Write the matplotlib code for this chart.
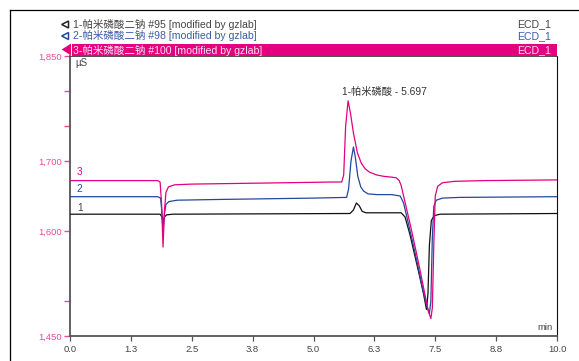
import matplotlib
matplotlib.use("Agg")
import matplotlib.pyplot as plt
from matplotlib.lines import Line2D
from matplotlib.patches import Polygon, Rectangle

# ---------------- data ----------------
t3 = [0.0, 1.80, 1.85, 1.88, 1.91, 1.94, 1.97, 2.02, 2.15, 2.5, 3.5, 4.5, 5.4, 5.58,
      5.62, 5.66, 5.71, 5.76, 5.82, 5.90, 5.98, 6.06, 6.15, 6.30, 6.45, 6.60, 6.70,
      6.76, 6.80, 6.90, 7.00, 7.10, 7.20, 7.30, 7.36, 7.41, 7.44, 7.47, 7.50, 7.55,
      7.65, 7.9, 8.5, 10.0]
v3 = [1672, 1672, 1670, 1640, 1577, 1630, 1655, 1663, 1666, 1667, 1668, 1669, 1670, 1670,
      1680, 1750, 1786, 1768, 1740, 1712, 1697, 1689, 1684, 1680, 1678, 1677, 1676,
      1672, 1665, 1635, 1605, 1573, 1540, 1505, 1485, 1475, 1490, 1580, 1650, 1664,
      1669, 1671, 1672, 1673]

t2 = [0.0, 1.80, 1.86, 1.89, 1.91, 1.94, 1.97, 2.03, 2.2, 3.0, 4.0, 5.0, 5.68, 5.72,
      5.77, 5.82, 5.86, 5.91, 5.97, 6.03, 6.12, 6.3, 6.6, 6.78, 6.85, 6.95, 7.05,
      7.15, 7.25, 7.33, 7.38, 7.41, 7.44, 7.47, 7.52, 7.65, 8.0, 10.0]
v2 = [1649, 1649, 1647, 1625, 1597, 1625, 1638, 1642, 1644, 1645, 1646, 1647, 1648, 1660,
      1700, 1720, 1705, 1678, 1663, 1657, 1653, 1652, 1652, 1650, 1640, 1610, 1580,
      1548, 1515, 1492, 1482, 1500, 1590, 1635, 1644, 1647, 1648, 1649]

t1 = [0.0, 1.85, 1.89, 1.91, 1.94, 1.98, 2.1, 5.75, 5.82, 5.88, 5.94, 6.00, 6.08, 6.80,
      6.88, 6.98, 7.08, 7.18, 7.26, 7.32, 7.35, 7.38, 7.42, 7.48, 7.6, 10.0]
v1 = [1624, 1624, 1620, 1613, 1620, 1623, 1624, 1625, 1630, 1640, 1636, 1628, 1626, 1626,
      1620, 1595, 1565, 1535, 1510, 1488, 1510, 1580, 1615, 1622, 1624, 1625]

trace_names = ["1-帕米磷酸二钠 #95 [modified by gzlab]",
               "2-帕米磷酸二钠 #98 [modified by gzlab]",
               "3-帕米磷酸二钠 #100 [modified by gzlab]"]
channel = "ECD_1"
peak_label = "1-帕米磷酸 - 5.697"

x_ticks = [0.0, 1.25, 2.5, 3.75, 5.0, 6.25, 7.5, 8.75, 10.0]
x_ticklabels = ["0.0", "1.3", "2.5", "3.8", "5.0", "6.3", "7.5", "8.8", "10.0"]
y_ticks = [1450, 1500, 1600, 1700, 1750, 1800, 1850]
y_ticklabels = ["1,450", "", "1,600", "1,700", "", "", "1,850"]

# ---------------- style ----------------
W, H = 579, 361
PINK = "#e4007f"
PINK_LBL = "#ec4a9a"
BLUE = "#23489a"
BLACK = "#111111"
GRAY = "#444444"
FONT = ["Liberation Sans", "Noto Sans CJK SC", "DejaVu Sans"]
plt.rcParams["font.family"] = FONT

def fx(x):
    return x / W

def fy(y):
    return 1 - y / H

fig = plt.figure(figsize=(W / 100, H / 100), dpi=100)
ax = fig.add_axes([fx(70), fy(336), (557 - 70) / W, (336 - 56) / H])

ax.plot(t1, v1, color=BLACK, lw=0.9, zorder=3)
ax.plot(t2, v2, color=BLUE, lw=0.9, zorder=4)
ax.plot(t3, v3, color=PINK, lw=0.9, zorder=5)

ax.set_xlim(0, 10)
ax.set_ylim(1450, 1850)
ax.set_xticks(x_ticks)
ax.set_xticklabels(x_ticklabels, fontsize=6.8, color=GRAY)
ax.set_yticks(y_ticks)
ax.set_yticklabels(y_ticklabels, fontsize=6.8, color=PINK_LBL)
ax.tick_params(axis="x", length=3.5, width=0.9, color="#555555", pad=3)
ax.tick_params(axis="y", length=4, width=1.0, color=PINK_LBL, pad=2)

for s in ["left", "bottom"]:
    ax.spines[s].set_color("#555555")
    ax.spines[s].set_linewidth(1.3)
ax.spines["right"].set_color("#111111")
ax.spines["right"].set_linewidth(0.8)
ax.spines["top"].set_color("#333333")
ax.spines["top"].set_linewidth(0.6)

# in-plot texts
ax.text(0.012, 0.976, "µS", transform=ax.transAxes, fontsize=7, color=GRAY,
        ha="left", va="center")
ax.text(0.992, 0.029, "min", transform=ax.transAxes, fontsize=6.8, color=GRAY,
        ha="right", va="center")
ax.text(5.58, 1799, peak_label, fontsize=7.4, color="#333333", ha="left", va="center")
ax.text(0.2, 1684, "3", fontsize=7.2, color=PINK, ha="center", va="center")
ax.text(0.2, 1660, "2", fontsize=7.2, color=BLUE, ha="center", va="center")
ax.text(0.2, 1633, "1", fontsize=7.2, color=GRAY, ha="center", va="center")

# outer frame (top and left only)
fig.add_artist(Line2D([fx(10), 1.0], [fy(10), fy(10)], color="black", lw=0.9,
                      transform=fig.transFigure))
fig.add_artist(Line2D([fx(10), fx(10)], [fy(10), 0.0], color="black", lw=0.9,
                      transform=fig.transFigure))

# header rows
def tri(y0, y1, color, filled):
    pts = [(fx(61.7), fy((y0 + y1) / 2)), (fx(68.5), fy(y0)), (fx(68.5), fy(y1))]
    p = Polygon(pts, closed=True, transform=fig.transFigure,
                facecolor=color if filled else "none", edgecolor=color, lw=1.1)
    fig.add_artist(p)

tri(21, 28, "#222222", False)
tri(32.5, 39.5, BLUE, False)
fig.add_artist(Rectangle((fx(71.7), fy(56)), fx(557) - fx(71.7), fy(44) - fy(56),
                         transform=fig.transFigure, facecolor=PINK, edgecolor="none"))
fig.add_artist(Polygon([(fx(61.7), fy(49.5)), (fx(71), fy(43.5)), (fx(71), fy(55.5))],
                       closed=True, transform=fig.transFigure, facecolor=PINK,
                       edgecolor="none"))

rows = [(24.3, GRAY), (35.7, "#3a5ba8"), (50.0, "#fbe3ef")]
for (yy, col), name in zip(rows, trace_names):
    fig.text(fx(73), fy(yy), name, fontsize=7.6, color=col, ha="left", va="center")
    fig.text(fx(551), fy(yy), channel, fontsize=7.6, color=col, ha="right", va="center")

fig.savefig("out.png", dpi=100)
